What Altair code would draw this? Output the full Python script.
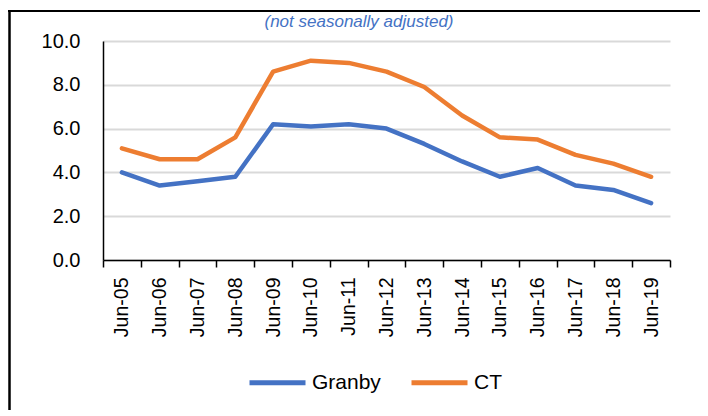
import altair as alt
import pandas as pd

months = ["Jun-05", "Jun-06", "Jun-07", "Jun-08", "Jun-09", "Jun-10", "Jun-11", "Jun-12",
          "Jun-13", "Jun-14", "Jun-15", "Jun-16", "Jun-17", "Jun-18", "Jun-19"]
granby = [4.0, 3.4, 3.6, 3.8, 6.2, 6.1, 6.2, 6.0, 5.3, 4.5, 3.8, 4.2, 3.4, 3.2, 2.6]
ct = [5.1, 4.6, 4.6, 5.6, 8.6, 9.1, 9.0, 8.6, 7.9, 6.6, 5.6, 5.5, 4.8, 4.4, 3.8]
series = ["Granby", "CT"]
colors = ["#4472C4", "#ED7D31"]
subtitle = "(not seasonally adjusted)"

rows = []
for s, vals in zip(series, [granby, ct]):
    for m, v in zip(months, vals):
        rows.append({"month": m, "rate": v, "series": s})
df = pd.DataFrame(rows)

FONT = "Liberation Sans"

lines = alt.Chart(df).mark_line(strokeWidth=4.5, strokeCap="round", strokeJoin="round").encode(
    x=alt.X("month:O", sort=months, bandPosition=0.5,
            scale=alt.Scale(type="band", paddingInner=0, paddingOuter=0),
            axis=alt.Axis(title=None, labelAngle=270, labelAlign="right", labelBaseline="middle",
                          labelFontSize=19.5, labelFont=FONT, labelColor="#000000",
                          labelPadding=10, tickSize=7, tickColor="#000000", tickWidth=1.5,
                          tickBand="extent", domainColor="#000000", domainWidth=1.5,
                          grid=False)),
    y=alt.Y("rate:Q", scale=alt.Scale(domain=[0, 10], nice=False),
            axis=alt.Axis(title=None, values=[0, 2, 4, 6, 8, 10], format=".1f",
                          labelFontSize=20, labelFont=FONT, labelColor="#000000",
                          labelPadding=23, ticks=False, domainColor="#000000",
                          domainWidth=1.5, gridColor="#d9d9d9", gridWidth=2)),
    color=alt.Color("series:N", sort=series,
                    scale=alt.Scale(domain=series, range=colors),
                    legend=alt.Legend(title=None, orient="none", direction="horizontal",
                                      legendX=144, legendY=311,
                                      symbolType="stroke", symbolSize=3136,
                                      symbolStrokeWidth=5, labelFontSize=21,
                                      labelFont=FONT, labelColor="#000000",
                                      labelOffset=4, columnPadding=20)),
)

blank = alt.Data(values=[{}])

title_mark = alt.Chart(blank).mark_text(
    font=FONT, fontSize=17, fontStyle="italic", color="#4472C4",
    align="center", baseline="alphabetic"
).encode(x=alt.value(256), y=alt.value(-14), text=alt.value(subtitle))

frame_top = alt.Chart(blank).mark_rule(color="#000000", strokeWidth=2).encode(
    x=alt.value(-95), x2=alt.value(610), y=alt.value(-30))
frame_left = alt.Chart(blank).mark_rule(color="#000000", strokeWidth=2.5).encode(
    x=alt.value(-93.5), y=alt.value(-31), y2=alt.value(420))

chart = alt.layer(frame_top, frame_left, title_mark, lines).properties(
    width=567, height=219,
    autosize=alt.AutoSizeParams(type="none"),
    padding={"left": 95, "top": 33, "right": 30, "bottom": 150},
).configure_view(stroke=None)

chart.save("out.html", embed_options={"renderer": "svg", "actions": False})
